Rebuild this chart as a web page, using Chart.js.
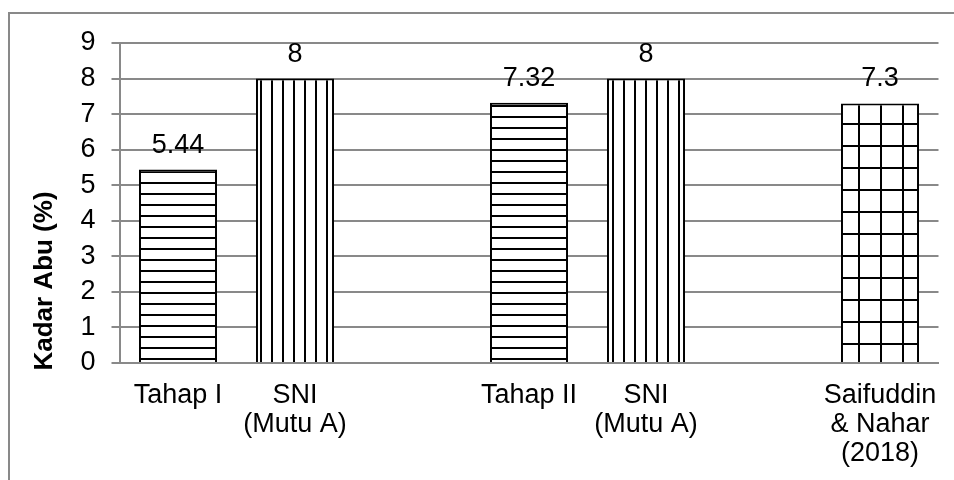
<!DOCTYPE html>
<html>
<head>
<meta charset="utf-8">
<script src="https://cdn.jsdelivr.net/npm/chart.js@4"></script>
<style>
  html, body { margin: 0; padding: 0; background: #fff; }
  #wrap { width: 954px; height: 480px; position: relative; }
</style>
</head>
<body>
<div id="wrap"><canvas id="mycanvas"></canvas></div>
<script>
// data (empty slots are the gaps between groups)
var categories = [['Tahap I'], ['SNI', '(Mutu A)'], '', ['Tahap II'], ['SNI', '(Mutu A)'], '', ['Saifuddin', '& Nahar', '(2018)']];
var kadarAbu = [5.44, 8, null, 7.32, 8, null, 7.3];
var valueLabels = ['5.44', '8', '', '7.32', '8', '', '7.3'];
var fills = ['h', 'v', null, 'h', 'v', null, 'grid'];
var yTicks = [0, 1, 2, 3, 4, 5, 6, 7, 8, 9];

var FONT = '"Liberation Sans", Arial, sans-serif';
var GRAY = '#898989';

function makePattern(kind) {
  var c = document.createElement('canvas');
  var size = kind == 'grid' ? 22 : 11;
  c.width = size;
  c.height = size;
  var g = c.getContext('2d');
  g.fillStyle = '#fff';
  g.fillRect(0, 0, size, size);
  g.fillStyle = '#000';
  if (kind == 'h') g.fillRect(0, 6, size, 2);
  if (kind == 'v') g.fillRect(7, 0, 2, size);
  if (kind == 'grid') {
    g.fillRect(0, 13, size, 2);
    g.fillRect(0, 0, 2, size);
  }
  return g.createPattern(c, 'repeat');
}

var bgs = fills.map(function(f) { return f ? makePattern(f) : '#fff'; });

var framePlugin = {
  id: 'frame',
  beforeDraw: function(chart) {
    var ctx = chart.ctx;
    ctx.save();
    ctx.fillStyle = '#fff';
    ctx.fillRect(0, 0, chart.width, chart.height);
    ctx.strokeStyle = GRAY;
    ctx.lineWidth = 2;
    ctx.beginPath();
    ctx.moveTo(9, 480);
    ctx.lineTo(9, 13);
    ctx.lineTo(954, 13);
    ctx.stroke();
    ctx.restore();
  },
  afterDraw: function(chart) {
    var ctx = chart.ctx;
    ctx.save();
    ctx.translate(45, 281);
    ctx.rotate(-Math.PI / 2);
    ctx.font = 'bold 26px ' + FONT;
    ctx.fillStyle = '#000';
    ctx.textAlign = 'center';
    ctx.textBaseline = 'middle';
    ctx.fillText('Kadar Abu (%)', 0, 0);
    ctx.restore();
  },
  afterDatasetsDraw: function(chart) {
    var ctx = chart.ctx;
    var bars = chart.getDatasetMeta(0).data;
    ctx.save();
    ctx.font = '27px ' + FONT;
    ctx.fillStyle = '#000';
    ctx.textAlign = 'center';
    ctx.textBaseline = 'alphabetic';
    for (var i = 0; i < bars.length; i++) {
      if (kadarAbu[i] == null) continue;
      ctx.fillText(valueLabels[i], bars[i].x, bars[i].y - 17);
    }
    ctx.restore();
  }
};

var ctx = document.getElementById('mycanvas');
new Chart(ctx, {
  type: 'bar',
  data: {
    labels: categories,
    datasets: [{
      label: 'Kadar Abu (%)',
      data: kadarAbu,
      backgroundColor: bgs,
      borderColor: '#000',
      borderWidth: 2,
      barPercentage: 0.667,
      categoryPercentage: 1
    }]
  },
  options: {
    responsive: true,
    maintainAspectRatio: false,
    animation: false,
    devicePixelRatio: 1,
    layout: { padding: { left: 0, right: 15.5, top: 43, bottom: 0 } },
    plugins: {
      legend: { display: false },
      tooltip: { enabled: false }
    },
    scales: {
      x: {
        grid: { display: false, drawTicks: false },
        border: { display: true, color: GRAY, width: 2, z: 1 },
        ticks: {
          color: '#000',
          font: { family: FONT, size: 27, lineHeight: 1.07 },
          padding: 18,
          maxRotation: 0,
          autoSkip: false
        },
        afterFit: function(scale) {
          scale.height = 117;
          scale.paddingLeft = 0;
          scale.paddingRight = 0;
        }
      },
      y: {
        min: 0,
        max: 9,
        afterBuildTicks: function(scale) {
          scale.ticks = yTicks.map(function(v) { return { value: v }; });
        },
        grid: { color: GRAY, lineWidth: 2, tickLength: 8, drawTicks: true },
        border: { display: true, color: GRAY, width: 2 },
        ticks: {
          color: '#000',
          font: { family: FONT, size: 27 },
          padding: 16
        },
        afterFit: function(scale) { scale.width = 119.5; }
      }
    }
  },
  plugins: [framePlugin]
});
</script>
</body>
</html>
